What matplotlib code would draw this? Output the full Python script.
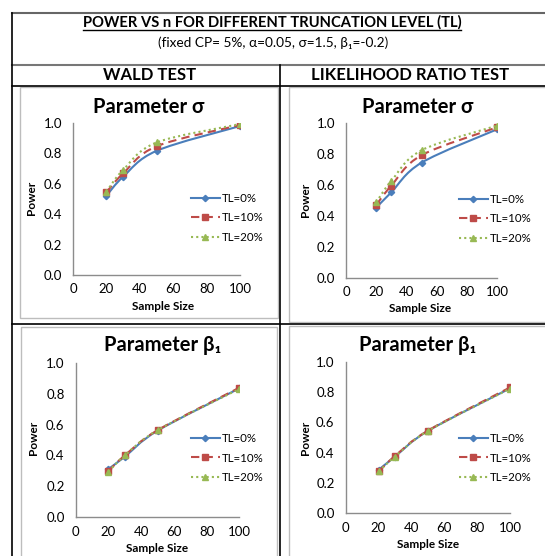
import matplotlib
matplotlib.use('Agg')
import matplotlib.pyplot as plt
from matplotlib.path import Path
from matplotlib.patches import PathPatch, Rectangle
from matplotlib.lines import Line2D
import numpy as np

plt.rcParams['font.family'] = ['Lato', 'DejaVu Sans']

# power of the tests vs sample size, per truncation level
sample_size = [20, 30, 50, 100]
tl_labels = ['TL=0%', 'TL=10%', 'TL=20%']

wald_sigma = [[0.52, 0.645, 0.815, 0.978],
              [0.543, 0.667, 0.845, 0.985],
              [0.547, 0.690, 0.870, 0.991]]
lrt_sigma = [[0.452, 0.551, 0.742, 0.957],
             [0.469, 0.594, 0.790, 0.970],
             [0.486, 0.624, 0.822, 0.981]]
wald_beta = [[0.312, 0.392, 0.560, 0.834],
             [0.300, 0.400, 0.563, 0.838],
             [0.295, 0.400, 0.563, 0.830]]
lrt_beta = [[0.286, 0.374, 0.543, 0.824],
            [0.276, 0.378, 0.545, 0.830],
            [0.276, 0.374, 0.543, 0.822]]

colors = ['#4A7EBB', '#BE4B48', '#98B954']
styles = ['-', (0, (4, 2.5)), (0, (1, 1.5))]
markers = ['D', 's', '^']
msizes = [3.2, 4.5, 5]

W, H = 545, 556
fig = plt.figure(figsize=(W / 100, H / 100), dpi=100)


def fx(px):
    return px / W


def fy(py):
    return 1 - py / H


def hline(y, x0, x1, color='black', lw=1.2):
    fig.add_artist(Line2D([fx(x0), fx(x1)], [fy(y), fy(y)], color=color, lw=lw))


def vline(x, y0, y1, color='black', lw=1.2):
    fig.add_artist(Line2D([fx(x), fx(x)], [fy(y0), fy(y1)], color=color, lw=lw))


def frame(x0, y0, x1, y1):
    fig.add_artist(Rectangle((fx(x0), fy(y1)), (x1 - x0) / W, (y1 - y0) / H,
                             fill=False, edgecolor='#BDBDBD', lw=1.0))


def smooth_path(xs, ys):
    # Catmull-Rom style bezier through the points (Excel "smoothed line")
    pts = np.column_stack([xs, ys]).astype(float)
    n = len(pts)
    verts = [pts[0]]
    codes = [Path.MOVETO]
    for i in range(n - 1):
        p0 = pts[max(i - 1, 0)]
        p1 = pts[i]
        p2 = pts[i + 1]
        p3 = pts[min(i + 2, n - 1)]
        verts += [p1 + (p2 - p0) / 6, p2 - (p3 - p1) / 6, p2]
        codes += [Path.CURVE4] * 3
    return Path(verts, codes)


def chart(box, data, title, title_xy, ylab_xy, xlab_xy, leg_xy):
    x0, y0, x1, y1 = box
    ax = fig.add_axes([fx(x0), fy(y1), (x1 - x0) / W, (y1 - y0) / H])
    for k in range(3):
        ax.add_patch(PathPatch(smooth_path(sample_size, data[k]), fill=False,
                               edgecolor=colors[k], lw=1.5, linestyle=styles[k],
                               zorder=2 + k))
        ax.plot(sample_size, data[k], ls='none', marker=markers[k], ms=msizes[k],
                color=colors[k], zorder=2 + k)
    ax.set_xlim(0, 100)
    ax.set_ylim(0, 1)
    ax.set_xticks(range(0, 101, 20))
    ax.set_yticks(np.arange(0, 1.01, 0.2))
    ax.set_yticklabels(['%.1f' % v for v in np.arange(0, 1.01, 0.2)])
    ax.tick_params(length=0, labelsize=9.5, colors='black')
    ax.tick_params(axis='y', pad=8)
    ax.tick_params(axis='x', pad=6)
    for s in ['top', 'right']:
        ax.spines[s].set_visible(False)
    for s in ['left', 'bottom']:
        ax.spines[s].set_color('#8C8C8C')
        ax.spines[s].set_linewidth(1.0)
    ax.patch.set_alpha(0)

    fig.text(fx(title_xy[0]), fy(title_xy[1]), title, ha='center', va='center',
             fontsize=14.5, fontweight='bold')
    fig.text(fx(ylab_xy[0]), fy(ylab_xy[1]), 'Power', ha='center', va='center',
             rotation=90, fontsize=8.5, fontweight='bold')
    fig.text(fx(xlab_xy[0]), fy(xlab_xy[1]), 'Sample Size', ha='center', va='center',
             fontsize=8.5, fontweight='bold')

    handles = [Line2D([], [], color=colors[k], lw=1.5, ls=styles[k], marker=markers[k],
                      ms=msizes[k]) for k in range(3)]
    ax.legend(handles, tl_labels, loc='center left', frameon=False,
              bbox_to_anchor=(fx(leg_xy[0]), fy(leg_xy[1])),
              bbox_transform=fig.transFigure, fontsize=8.3, handlelength=2.5,
              handletextpad=0.2, labelspacing=0.75, borderpad=0, borderaxespad=0)
    return ax


# table borders
hline(12.7, 11.5, 545, color='#666666', lw=1.5)
hline(65, 11.5, 545, color='#777777', lw=1.5)
hline(86, 11.5, 545)
hline(324, 11.5, 545)
vline(11.5, 12.7, 556)
vline(280.3, 65, 556)

# chart frames
frame(19.5, 87, 277.7, 318)
frame(289, 87, 548, 321.7)
frame(20.7, 327, 277, 560)
frame(289, 326, 548, 560)

# headings
t = fig.text(fx(272), fy(22), 'POWER VS n FOR DIFFERENT TRUNCATION LEVEL (TL)',
             ha='center', va='center', fontsize=10.6, fontweight='bold')
fig.text(fx(273), fy(43), '(fixed CP= 5%, α=0.05, σ=1.5, β₁=-0.2)',
         ha='center', va='center', fontsize=9.8)
fig.text(fx(150), fy(75), 'WALD TEST', ha='center', va='center',
         fontsize=12, fontweight='bold')
fig.text(fx(410), fy(75), 'LIKELIHOOD RATIO TEST', ha='center', va='center',
         fontsize=12, fontweight='bold')

chart((73, 122.7, 240, 275), wald_sigma, 'Parameter σ',
      (149, 107), (32, 198), (163, 306), (191, 218))
chart((346, 122.7, 497, 277.7), lrt_sigma, 'Parameter σ',
      (418, 107), (305, 200), (420, 309), (459, 219))
chart((75.7, 362.7, 239.3, 517.3), wald_beta, 'Parameter β₁',
      (163, 345), (33, 438), (157, 548), (191, 458))
chart((345.7, 361.7, 510, 513.3), lrt_beta, 'Parameter β₁',
      (418, 345), (305, 438), (428, 545), (459, 458))

# underline the main title
fig.canvas.draw()
bb = t.get_window_extent()
inv = fig.transFigure.inverted()
(ux0, uy), (ux1, _) = inv.transform([(bb.x0, bb.y0 - 1), (bb.x1, bb.y0 - 1)])
fig.add_artist(Line2D([ux0, ux1], [uy, uy], color='black', lw=1.0))

fig.savefig('out.png', dpi=100)
